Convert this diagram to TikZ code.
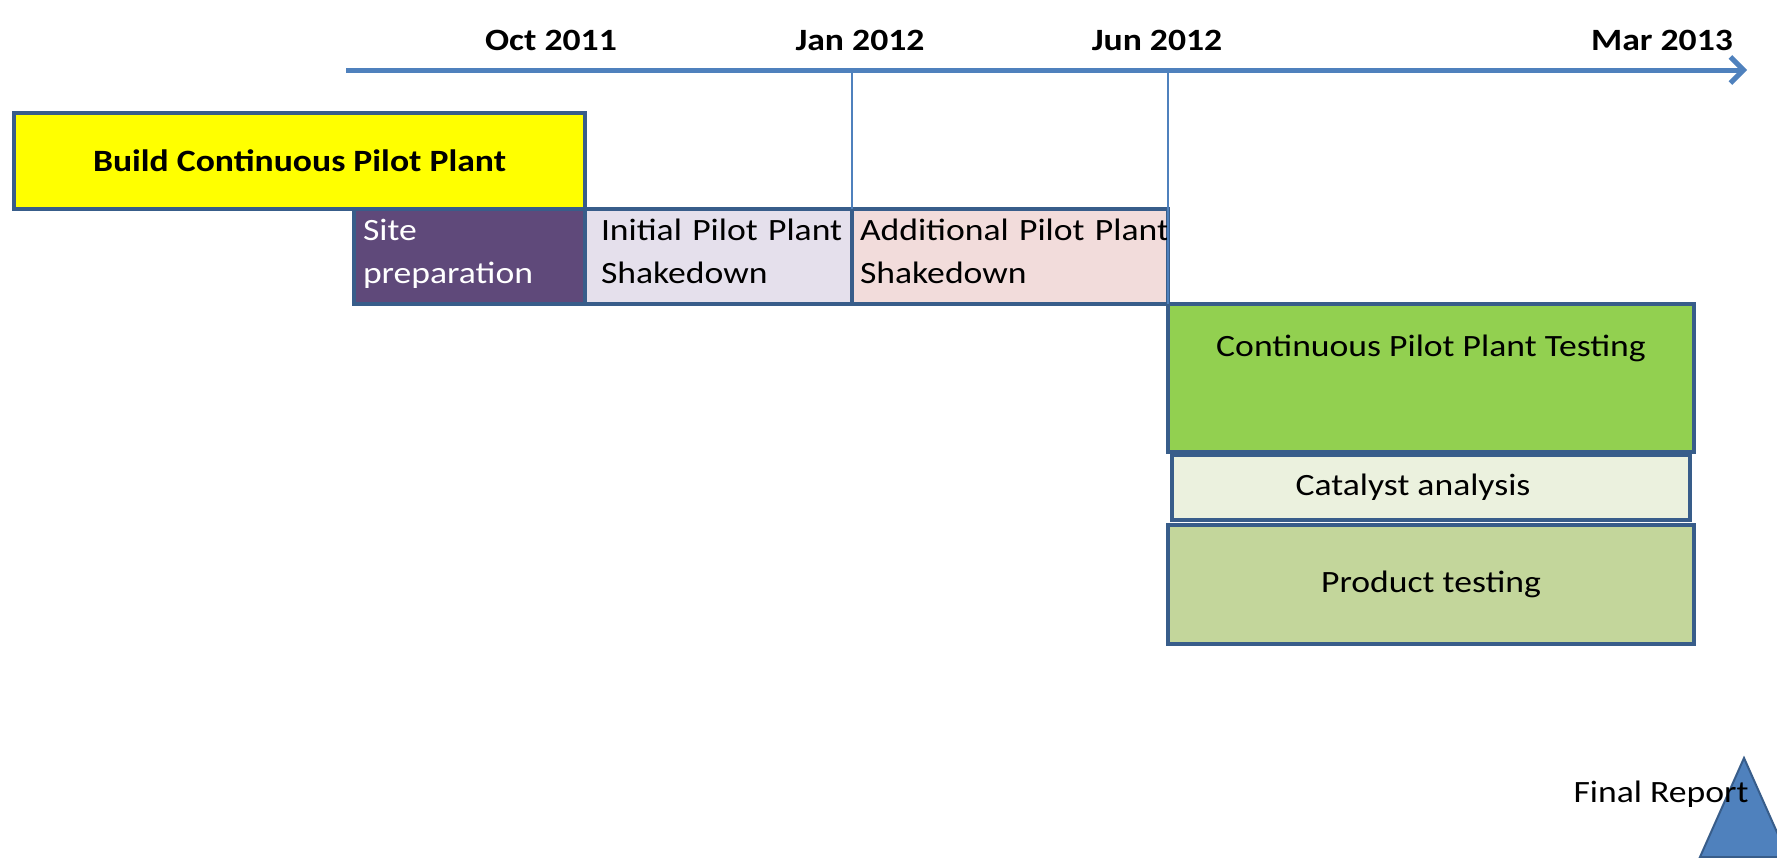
\documentclass[tikz,border=0pt]{standalone}
\usepackage{fontspec}
\setmainfont{Carlito}[FakeStretch=1.15]
\usetikzlibrary{positioning,arrows.meta}

\definecolor{axisblue}{HTML}{4F81BD}
\definecolor{rimblue}{HTML}{385D8A}
\definecolor{buildyellow}{HTML}{FFFF00}
\definecolor{sitepurple}{HTML}{5F497A}
\definecolor{initlilac}{HTML}{E5E0EC}
\definecolor{addpink}{HTML}{F2DCDB}
\definecolor{testgreen}{HTML}{92D050}
\definecolor{catpale}{HTML}{EBF1DE}
\definecolor{prodolive}{HTML}{C3D69B}

\begin{document}
\begin{tikzpicture}[x=1pt, y=1pt,
    task/.style={draw=rimblue, line width=4.5pt, outer sep=0pt, inner sep=0pt, font=\fontsize{31}{43}\selectfont},
    phase/.style={task, align=left, inner ysep=0pt, text height=31pt, text depth=64pt},
    date/.style={anchor=base, font=\fontsize{31}{43}\selectfont\bfseries},
    tick/.style={draw=axisblue, line width=1.5pt}]
        \useasboundingbox (0,0) rectangle (1777,-857);
        % time axis
        \coordinate (axisstart) at (346,-70);
        \coordinate (axisend)   at (1747,-70);
        \draw[axisblue, line width=5pt, -{Straight Barb[length=13pt,width=26pt]}] (axisstart) -- (axisend);
        \node[date](oct) at (551,-50)  {Oct 2011};
        \node[date](jan) at (860,-50)  {Jan 2012};
        \node[date](jun) at (1157,-50) {Jun 2012};
        \node[date](mar) at (1662,-50) {Mar 2013};
        % tasks
        \node[task, fill=buildyellow, minimum width=571pt, minimum height=96pt, anchor=north west,
              font=\fontsize{31}{43}\selectfont\bfseries](build) at (14,-113) {Build Continuous Pilot Plant};
        \node[phase, fill=sitepurple, text=white, text width=213pt, inner xsep=9pt](site)
              [below left=0pt of build.south east] {Site\\preparation};
        \node[phase, fill=initlilac, text width=235pt, inner xsep=16pt](initial)
              [right=0pt of site] {\mbox{Initial Pilot Plant}\\Shakedown};
        \node[phase, fill=addpink, text width=300pt, inner xsep=8pt](additional)
              [right=0pt of initial] {\mbox{Additional Pilot Plant}\\Shakedown};
        \node[task, fill=testgreen, minimum width=526pt, text height=52pt, text depth=96pt](testing)
              [below right=0pt of additional.south east] {Continuous Pilot Plant Testing};
        \node[task, fill=catpale, minimum width=518pt, minimum height=65pt](catalyst)
              [below=3pt of testing] {Catalyst analysis\hspace*{36pt}};
        \node[task, fill=prodolive, minimum width=526pt, minimum height=119pt](product)
              [below=5pt of catalyst] {Product testing};
        % milestone lines
        \draw[tick] (additional.north west |- axisstart) -- (additional.north west);
        \draw[tick] (testing.north west |- axisstart) -- (testing.north west);
        % final report
        \coordinate (apex) at (1744,-758);
        \filldraw[fill=axisblue, draw=rimblue, line width=2pt] (apex) -- ++(-44,-99) -- ++(88,0) -- cycle;
        \node[anchor=base, font=\fontsize{31}{43}\selectfont](report) at (1661,-802) {Final Report};
\end{tikzpicture}
\end{document}
